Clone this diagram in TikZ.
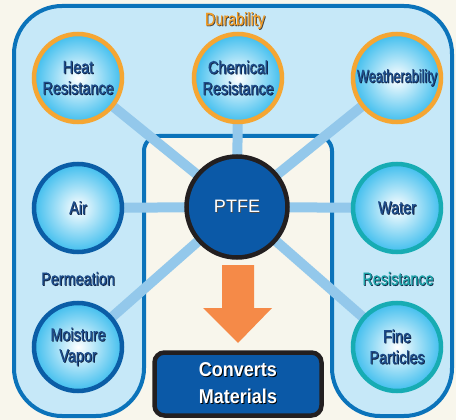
\documentclass[tikz,border=0pt]{standalone}
\usepackage{fontspec}
\newfontfamily\condfont[FakeStretch=0.8, FakeBold=0.5]{Liberation Sans}
\newfontfamily\boldcond[FakeStretch=0.9]{Liberation Sans}
\newfontfamily\plainfont{Liberation Sans}
\definecolor{cream}{HTML}{F8F6EC}
\definecolor{regionfill}{HTML}{C6E8F8}
\definecolor{regionline}{HTML}{0B73BA}
\definecolor{spokeblue}{HTML}{93C8EB}
\definecolor{bubblefill}{HTML}{40BEEE}
\definecolor{ringorange}{HTML}{F5A633}
\definecolor{ringnavy}{HTML}{0B5DA6}
\definecolor{ringteal}{HTML}{17ACB3}
\definecolor{textnavy}{HTML}{1D4C8A}
\definecolor{shadowdark}{HTML}{10223F}
\definecolor{corefill}{HTML}{0B59A7}
\definecolor{coreline}{HTML}{231F20}
\definecolor{arroworange}{HTML}{F58A48}
\definecolor{labelorange}{HTML}{EF9D2A}
\definecolor{labelteal}{HTML}{1CA3A8}
\pgfdeclarelayer{bg}
\pgfsetlayers{bg,main}
% text with a small dark drop shadow
\newcommand\dropshadow[2]{\makebox[0pt][l]{\kern0.8pt\raisebox{-0.8pt}{\textcolor{#1}{#2}}}#2}
\newcommand\sh[1]{\dropshadow{shadowdark}{#1}}
\tikzset{
    bubble/.style = {circle, draw, line width=4.5pt, minimum size=88pt, inner sep=0pt,
        inner color=white, outer color=bubblefill, align=center, text=textnavy,
        font=\condfont\fontsize{18}{21}\selectfont},
    durable/.style = {bubble, draw=ringorange},
    permeate/.style = {bubble, draw=ringnavy},
    resist/.style = {bubble, draw=ringteal},
    spoke/.style = {draw=spokeblue, line width=10pt},
    group label/.style = {font=\condfont\fontsize{18}{21}\selectfont},
}

\begin{document}
\begin{tikzpicture}[x=1pt, y=-1pt]
        \useasboundingbox (0,0) rectangle (456,420);
        \node[durable] (heat) at (78, 78) {\sh{Heat}\\\sh{Resistance}};
        \node[durable] (chem) at (238, 78) {\sh{Chemical}\\\sh{Resistance}};
        \node[durable] (weather) at (397, 78) {\scalebox{0.88}[1]{\sh{Weatherability}}};
        \node[permeate] (air) at (78, 208) {\sh{Air}};
        \node[permeate] (vapor) at (78, 347) {\sh{Moisture}\\\sh{Vapor}};
        \node[resist] (water) at (397, 208) {\sh{Water}};
        \node[resist] (fine) at (397, 347) {\sh{Fine}\\\sh{Particles}};
        \node[circle, draw=coreline, fill=corefill, line width=4.5pt, minimum size=101pt,
            text=white, font=\plainfont\fontsize{18}{21}\selectfont] (ptfe) at (237, 207) {\dropshadow{black!70}{PTFE}};
        \node[draw=coreline, fill=corefill, line width=4.5pt, rounded corners=10pt,
            minimum width=167pt, minimum height=63pt, align=center, text=white,
            font=\boldcond\bfseries\fontsize{20}{27}\selectfont] (conv) at (238, 384)
            {\dropshadow{black}{Converts}\\\dropshadow{black}{Materials}};
        \node[group label, text=labelorange] (dur) at (235, 21) {\dropshadow{black!75}{Durability}};
        \node[group label, text=textnavy] (perm) at (78, 279) {\sh{Permeation}};
        \node[group label, text=labelteal] (res) at (398, 279) {\sh{Resistance}};
        % arrow into the result box
        \fill[arroworange] (222, 265) -- (254, 265) -- (254, 308) -- (272, 308)
            -- (238, 343) -- (203, 308) -- (222, 308) -- cycle;
        \begin{pgfonlayer}{bg}
            \fill[cream] (0, 0) rectangle (456, 420);
            \filldraw[fill=regionfill, draw=regionline, line width=4pt] (144, 300)
                [rounded corners=48pt] -- (144, 416) -- (14, 416) -- (14, 6) -- (452, 6)
                -- (452, 416) -- (332, 416) -- (332, 300)
                [rounded corners=15pt] -- (332, 136) -- (144, 136) -- cycle;
            \foreach \n in {heat, chem, weather, air, vapor, water, fine}
                \draw[spoke] (ptfe.center) -- (\n.center);
        \end{pgfonlayer}
    \end{tikzpicture}
\end{document}
